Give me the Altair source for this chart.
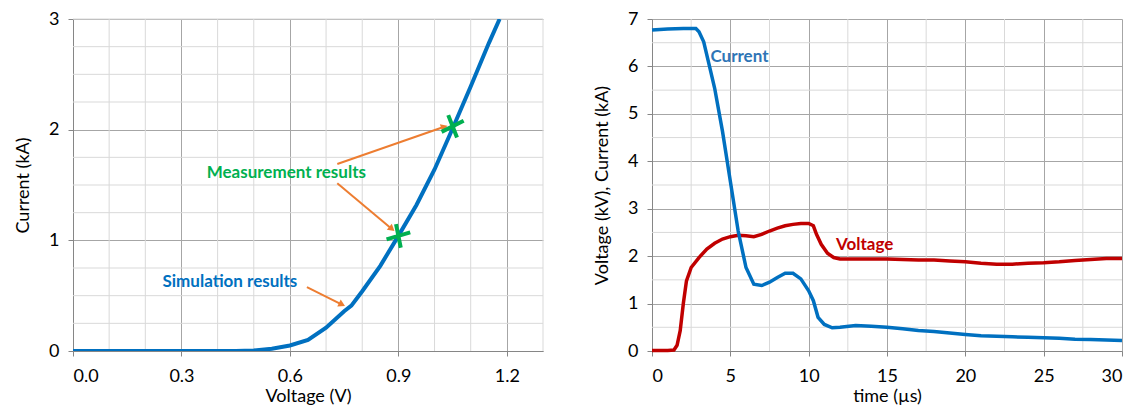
import math
import altair as alt
import pandas as pd

FONT = "Lato"

# ---------------- Left panel data ----------------
sim_v = [0.0, 0.1, 0.2, 0.3, 0.4, 0.45, 0.5, 0.55, 0.6, 0.65, 0.7, 0.75, 0.77,
         0.8, 0.85, 0.9, 0.95, 1.0, 1.05, 1.1, 1.15, 1.18]
sim_i = [0.0, 0.0, 0.0, 0.0, 0.0, 0.0, 0.005, 0.02, 0.05, 0.10, 0.21, 0.36, 0.41,
         0.54, 0.77, 1.04, 1.32, 1.64, 2.01, 2.39, 2.78, 3.0]
meas_v = [0.9, 1.05]
meas_i = [1.04, 2.03]

left_major_x = [0.0, 0.3, 0.6, 0.9, 1.2]
left_major_y = [0, 1, 2, 3]
left_minor_x = [0.1, 0.2, 0.4, 0.5, 0.7, 0.8, 1.0, 1.1, 1.3]
left_minor_y = [0.25, 0.5, 0.75, 1.25, 1.5, 1.75, 2.25, 2.5, 2.75, 3.0]

ann_text = ["Measurement results", "Simulation results"]
ann_x = [0.59, 0.434]
ann_y = [1.61, 0.62]
ann_color = ["#00B050", "#0070C0"]

arrow_x1 = [0.731, 0.731, 0.647]
arrow_y1 = [1.69, 1.516, 0.578]
arrow_x2 = [1.027, 0.882, 0.744]
arrow_y2 = [2.026, 1.103, 0.42]

# ---------------- Right panel data ----------------
t_cur = [0, 1, 2, 2.8, 3.0, 3.3, 3.6, 4, 4.5, 5, 5.5, 6, 6.5, 7, 7.5, 8, 8.5, 9,
         9.5, 10, 10.3, 10.6, 11, 11.5, 12, 13, 14, 15, 16, 17, 18, 19, 20, 21,
         22, 23, 24, 25, 26, 27, 28, 29, 30]
i_cur = [6.77, 6.79, 6.80, 6.80, 6.73, 6.52, 6.10, 5.54, 4.63, 3.58, 2.53, 1.76,
         1.41, 1.38, 1.45, 1.55, 1.64, 1.64, 1.52, 1.27, 1.06, 0.71, 0.56, 0.49,
         0.50, 0.54, 0.52, 0.50, 0.47, 0.43, 0.41, 0.38, 0.35, 0.32, 0.31, 0.30,
         0.29, 0.28, 0.27, 0.25, 0.24, 0.23, 0.22]
t_volt = [0, 1, 1.4, 1.6, 1.8, 2.0, 2.2, 2.5, 3, 3.5, 4, 4.5, 5, 5.5, 6, 6.5, 7,
          7.5, 8, 8.5, 9, 9.5, 10, 10.3, 10.5, 10.8, 11.2, 11.6, 12, 13, 15, 17,
          18, 19, 20, 21, 22, 23, 24, 25, 26, 27, 28, 29, 30]
v_volt = [0.01, 0.01, 0.02, 0.12, 0.43, 1.0, 1.48, 1.76, 1.97, 2.15, 2.27, 2.36,
          2.41, 2.44, 2.43, 2.41, 2.46, 2.53, 2.59, 2.64, 2.67, 2.69, 2.69, 2.64,
          2.46, 2.25, 2.06, 1.97, 1.94, 1.94, 1.94, 1.92, 1.92, 1.90, 1.88, 1.85,
          1.83, 1.83, 1.85, 1.86, 1.88, 1.91, 1.93, 1.95, 1.95]

right_major_x = [0, 5, 10, 15, 20, 25, 30]
right_major_y = [0, 1, 2, 3, 4, 5, 6, 7]
right_minor_x = [2.5, 7.5, 12.5, 17.5, 22.5, 27.5]
right_minor_y = [0.5, 1.5, 2.5, 3.5, 4.5, 5.5, 6.5]

lab_text = ["Current", "Voltage"]
lab_x = [3.73, 11.75]
lab_y = [6.2, 2.24]
lab_color = ["#2E75B6", "#C00000"]

W, H = 470, 332
MINOR = "#D9D9D9"
MAJOR = "#A6A6A6"
AXIS = "#868686"

# ---------------- Left panel ----------------
xs_l = alt.Scale(domain=[0, 1.3], nice=False)
ys_l = alt.Scale(domain=[0, 3], nice=False)

x_axis_l = alt.Axis(values=left_major_x, format=".1f", title="Voltage (V)")
y_axis_l = alt.Axis(values=left_major_y, format="d", title="Current (kA)")

minor_vx = alt.Chart(pd.DataFrame({"x": left_minor_x})).mark_rule(
    color=MINOR, strokeWidth=1).encode(x=alt.X("x:Q", scale=xs_l, axis=x_axis_l))
minor_hy = alt.Chart(pd.DataFrame({"y": left_minor_y})).mark_rule(
    color=MINOR, strokeWidth=1).encode(y=alt.Y("y:Q", scale=ys_l, axis=y_axis_l))

sim_df = pd.DataFrame({"v": sim_v, "i": sim_i})
sim_line = alt.Chart(sim_df).mark_line(color="#0070C0", strokeWidth=4, clip=True).encode(
    x=alt.X("v:Q", scale=xs_l, axis=x_axis_l),
    y=alt.Y("i:Q", scale=ys_l, axis=y_axis_l),
)

meas_df = pd.DataFrame({"v": meas_v, "i": meas_i, "ang": [0, 350]})
meas = alt.Chart(meas_df).mark_point(
    shape="M-1,0.3L1,-0.3M-0.2,-1L0.2,1", filled=False, stroke="#00B050",
    strokeWidth=4, size=560, opacity=1,
).encode(
    x=alt.X("v:Q", scale=xs_l), y=alt.Y("i:Q", scale=ys_l),
    angle=alt.Angle("ang:Q", scale=None),
)

px_per_x = W / 1.3
px_per_y = H / 3.0
angles = []
for x1, y1, x2, y2 in zip(arrow_x1, arrow_y1, arrow_x2, arrow_y2):
    dx = (x2 - x1) * px_per_x
    dy = (y2 - y1) * px_per_y
    angles.append(math.degrees(math.atan2(dx, dy)) % 360)

arr_df = pd.DataFrame({"x1": arrow_x1, "y1": arrow_y1, "x2": arrow_x2,
                       "y2": arrow_y2, "ang": angles})
arr_lines = alt.Chart(arr_df).mark_rule(color="#ED7D31", strokeWidth=2).encode(
    x=alt.X("x1:Q", scale=xs_l), y=alt.Y("y1:Q", scale=ys_l),
    x2="x2:Q", y2="y2:Q",
)
arr_heads = alt.Chart(arr_df).mark_point(
    shape="triangle-up", filled=True, color="#ED7D31", size=60, opacity=1,
).encode(
    x=alt.X("x2:Q", scale=xs_l), y=alt.Y("y2:Q", scale=ys_l),
    angle=alt.Angle("ang:Q", scale=None),
)

ann_df = pd.DataFrame({"t": ann_text, "x": ann_x, "y": ann_y, "c": ann_color})
ann = alt.Chart(ann_df).mark_text(
    font=FONT, fontSize=17, fontWeight="bold", align="center", baseline="middle",
).encode(
    x=alt.X("x:Q", scale=xs_l), y=alt.Y("y:Q", scale=ys_l),
    text="t:N", color=alt.Color("c:N", scale=None),
)

left = alt.layer(minor_vx, minor_hy, arr_lines, arr_heads, sim_line, meas, ann).properties(
    width=W, height=H)

# ---------------- Right panel ----------------
xs_r = alt.Scale(domain=[0, 30], nice=False)
ys_r = alt.Scale(domain=[0, 7], nice=False)
x_axis_r = alt.Axis(values=right_major_x, format="d", title="time (µs)")
y_axis_r = alt.Axis(values=right_major_y, format="d", title="Voltage (kV), Current (kA)")

minor_vx_r = alt.Chart(pd.DataFrame({"x": right_minor_x})).mark_rule(
    color=MINOR, strokeWidth=1).encode(x=alt.X("x:Q", scale=xs_r, axis=x_axis_r))
minor_hy_r = alt.Chart(pd.DataFrame({"y": right_minor_y})).mark_rule(
    color=MINOR, strokeWidth=1).encode(y=alt.Y("y:Q", scale=ys_r, axis=y_axis_r))

volt_line = alt.Chart(pd.DataFrame({"t": t_volt, "v": v_volt})).mark_line(
    color="#C00000", strokeWidth=3.5).encode(
    x=alt.X("t:Q", scale=xs_r, axis=x_axis_r),
    y=alt.Y("v:Q", scale=ys_r, axis=y_axis_r),
)
cur_line = alt.Chart(pd.DataFrame({"t": t_cur, "i": i_cur})).mark_line(
    color="#0070C0", strokeWidth=3.5).encode(
    x=alt.X("t:Q", scale=xs_r, axis=x_axis_r),
    y=alt.Y("i:Q", scale=ys_r, axis=y_axis_r),
)
lab_df = pd.DataFrame({"t": lab_text, "x": lab_x, "y": lab_y, "c": lab_color})
labs = alt.Chart(lab_df).mark_text(
    font=FONT, fontSize=17, fontWeight="bold", align="left", baseline="middle",
).encode(
    x=alt.X("x:Q", scale=xs_r), y=alt.Y("y:Q", scale=ys_r),
    text="t:N", color=alt.Color("c:N", scale=None),
)

right = alt.layer(minor_vx_r, minor_hy_r, volt_line, cur_line, labs).properties(
    width=W, height=H)

chart = alt.hconcat(left, right, spacing=49).configure(
    padding={"left": 6, "right": 0, "top": 2, "bottom": 0}
).configure_view(
    stroke=None
).configure_axis(
    labelFont=FONT, titleFont=FONT, labelFontSize=18, titleFontSize=18,
    labelColor="#000000", titleColor="#000000", titleFontWeight="normal",
    gridColor=MAJOR, gridWidth=1, domainColor=AXIS, tickColor=AXIS,
    tickSize=5,
).configure_axisX(
    labelPadding=11, titlePadding=2,
).configure_axisY(
    labelPadding=9, titlePadding=16,
)

chart.save("out.html", embed_options={"renderer": "svg", "actions": False})
